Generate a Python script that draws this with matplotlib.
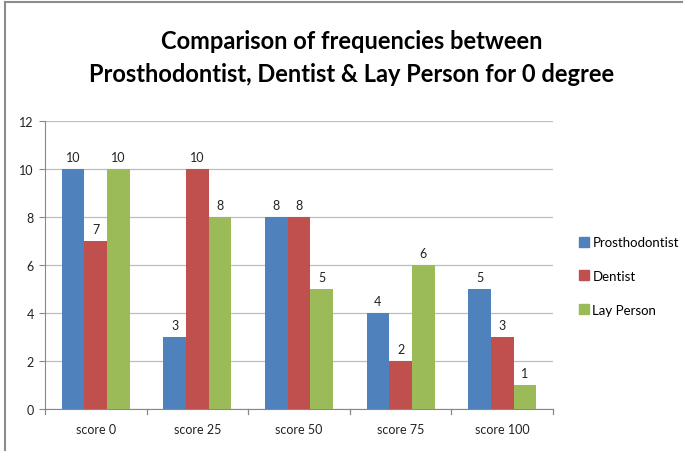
import numpy as np
import matplotlib.pyplot as plt
from matplotlib.lines import Line2D

# --- données ---
categories = ['score 0', 'score 25', 'score 50', 'score 75', 'score 100']
prosthodontist = [10, 3, 8, 4, 5]
dentist = [7, 10, 8, 2, 3]
lay_person = [10, 8, 5, 6, 1]
series_names = ['Prosthodontist', 'Dentist', 'Lay Person']
series_colors = ['#4F81BD', '#C0504D', '#9BBB59']
y_ticks = [0, 2, 4, 6, 8, 10, 12]

plt.rcParams['font.family'] = ['Lato', 'DejaVu Sans']

fig = plt.figure(figsize=(6.84, 4.52), dpi=100)
ax = fig.add_axes([45 / 684, 1 - 410 / 452, 508 / 684, 288 / 452])

x = np.arange(len(categories))
width = 0.223
series = [prosthodontist, dentist, lay_person]
for i, (vals, name, col) in enumerate(zip(series, series_names, series_colors)):
    pos = x + (i - 1) * width
    ax.bar(pos, vals, width, color=col, label=name, zorder=3)
    for p, v in zip(pos, vals):
        ax.text(p, v + 0.25, str(v), ha='center', va='bottom', fontsize=9, color='#222222')

ax.set_xlim(-0.5, len(categories) - 0.5)
ax.set_ylim(0, 12)
ax.set_yticks(y_ticks)
ax.set_xticks(x)
ax.set_xticklabels(categories)
ax.yaxis.grid(True, color='#BDBDBD', linewidth=0.9, zorder=0)

# ticks entre les catégories sur l'axe x
ax.tick_params(axis='x', length=0, pad=10, labelsize=9, colors='#222222')
ax.tick_params(axis='y', length=4, color='#888888', labelsize=9, labelcolor='#222222', pad=4)
for b in np.arange(-0.5, len(categories), 1.0):
    ax.plot([b, b], [0, -0.2], color='#888888', lw=0.9, clip_on=False, zorder=4)

for s in ['top', 'right']:
    ax.spines[s].set_visible(False)
ax.spines['left'].set_color('#888888')
ax.spines['bottom'].set_color('#888888')

# légende
handles = [Line2D([], [], marker='s', linestyle='none', markersize=6.5,
                  markerfacecolor=c, markeredgecolor=c) for c in series_colors]
fig.legend(handles, series_names, loc='center left', bbox_to_anchor=(566 / 684, 1 - 277 / 452),
           frameon=False, fontsize=9.5, handletextpad=0.1, labelspacing=1.65, handlelength=1.0)

fig.text(352 / 684, 1 - 58 / 452,
         'Comparison of frequencies between\nProsthodontist, Dentist & Lay Person for 0 degree',
         ha='center', va='center', fontsize=17, fontweight='bold', linespacing=1.5,
         family=['Lato', 'DejaVu Sans'])

# cadre du graphique
frame_col = '#8C8C8C'
fig.add_artist(Line2D([5 / 684, 5 / 684], [0, 1 - 3 / 452], color=frame_col, lw=1.5))
fig.add_artist(Line2D([5 / 684, 682 / 684], [1 - 3 / 452, 1 - 3 / 452], color=frame_col, lw=1.5))

plt.savefig('out.png', dpi=100)
